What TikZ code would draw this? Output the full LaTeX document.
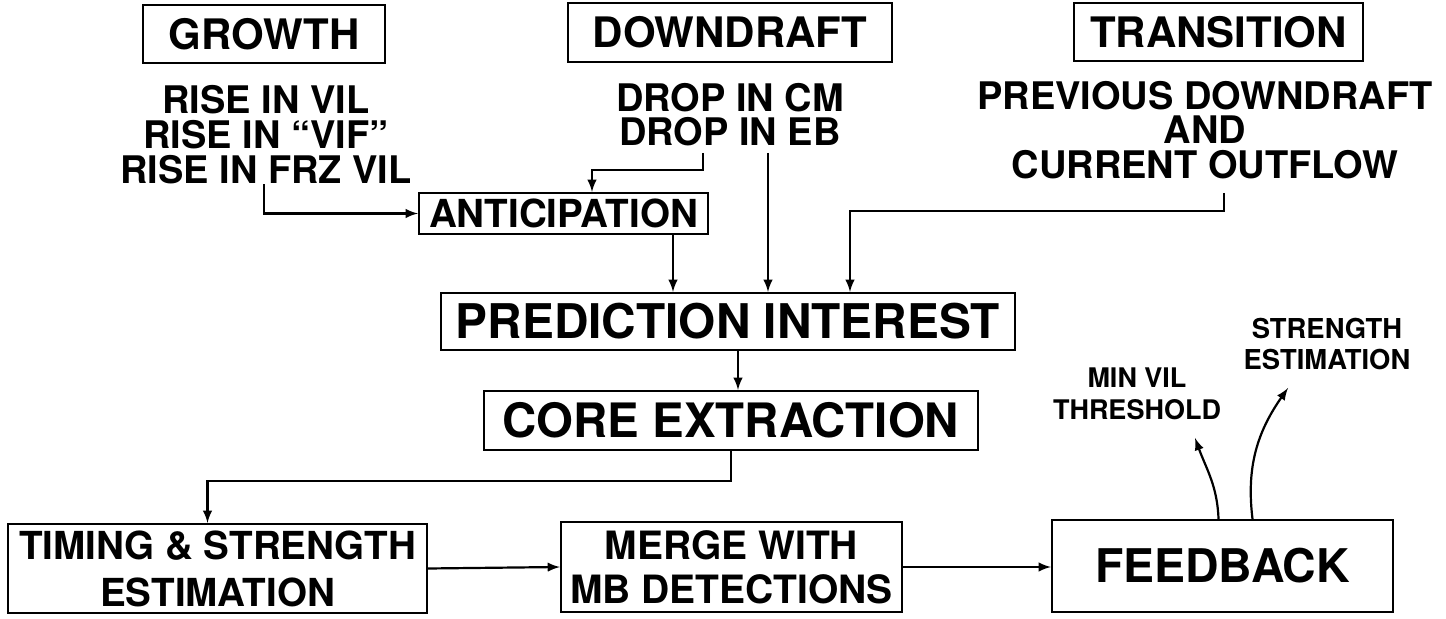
\documentclass[tikz,border=0pt]{standalone}
\usepackage{fontspec}
\setmainfont{TeX Gyre Heros}
\begin{document}
\begin{tikzpicture}[x=0.5pt, y=-0.5pt,
    box/.style={draw, line width=1.1pt, inner sep=0pt},
    txt/.style={inner sep=0pt, align=center, anchor=north},
    flow/.style={-latex, line width=1.1pt}]
        \useasboundingbox (0,0) rectangle (1446,619);
        % headings
        \node[box, minimum width=121pt, minimum height=29pt, font=\bfseries\fontsize{21}{21}\selectfont] at (264,34) (growth) {GROWTH};
        \node[box, minimum width=162pt, minimum height=29.5pt, font=\bfseries\fontsize{21}{21}\selectfont] at (730,32.5) (downdraft) {DOWNDRAFT};
        \node[box, minimum width=144.5pt, minimum height=29pt, font=\bfseries\fontsize{21}{21}\selectfont] at (1218.5,32) (transition) {TRANSITION};
        % cues under the headings
        \node[txt, font=\bfseries\fontsize{19}{17.4}\selectfont] at (266,85) (growthtxt) {RISE IN VIL\\RISE IN ``VIF''\\RISE IN FRZ VIL};
        \node[txt, font=\bfseries\fontsize{19}{17.2}\selectfont] at (730,83) (droptxt) {DROP IN CM\\DROP IN EB};
        \node[txt, font=\bfseries\fontsize{19}{17.2}\selectfont] at (1205,81) (flowtxt) {PREVIOUS DOWNDRAFT\\AND\\CURRENT OUTFLOW};
        \coordinate (cmout) at (703,153);
        \coordinate (ebout) at (768,153);
        \coordinate (flowout) at (1224,193);
        % main chain
        \node[box, minimum width=144.5pt, minimum height=20.5pt, font=\bfseries\fontsize{19.3}{19.3}\selectfont] at (563.5,213.5) (antic) {ANTICIPATION};
        \node[box, minimum width=287pt, minimum height=28.5pt, font=\bfseries\fontsize{23.9}{23.9}\selectfont] at (728,321.5) (predict) {PREDICTION INTEREST};
        \node[box, minimum width=247pt, minimum height=29.5pt, font=\bfseries\fontsize{23.7}{23.7}\selectfont] at (731,420.5) (core) {CORE EXTRACTION};
        \node[box, minimum width=209.5pt, minimum height=44.5pt, align=center, font=\bfseries\fontsize{19.3}{23.5}\selectfont] at (217.5,568.5) (timing) {TIMING \& STRENGTH\\ESTIMATION};
        \node[box, minimum width=170.5pt, minimum height=45pt, align=center, font=\bfseries\fontsize{19.5}{22}\selectfont] at (731.5,567) (merge) {MERGE WITH\\MB DETECTIONS};
        \node[box, minimum width=170.5pt, minimum height=46pt, font=\bfseries\fontsize{23.2}{23.2}\selectfont] at (1222.5,566) (feedback) {FEEDBACK};
        % feedback outputs
        \node[txt, font=\bfseries\fontsize{13.5}{16}\selectfont] at (1137,367) (vil) {MIN VIL\\THRESHOLD};
        \node[txt, font=\bfseries\fontsize{13.7}{15.5}\selectfont] at (1327,318) (strength) {STRENGTH\\ESTIMATION};
        \coordinate (vilend) at (1195,438);
        \coordinate (strend) at (1288,388);
        \draw[flow] (growthtxt.south -| growth) |- (antic.west);
        \draw[flow] (cmout) -- ++(0,17) -| ([xshift=14.25pt]antic.north);
        \draw[flow] ([xshift=54.75pt]antic.south) -- ([xshift=54.75pt]antic.south |- predict.north);
        \draw[flow] (ebout) -- (ebout |- predict.north);
        \draw[flow] (flowout) -- ++(0,18) -| ([xshift=61pt]predict.north);
        \draw[flow] ([xshift=5pt]predict.south) -- ([xshift=5pt]predict.south |- core.north);
        \draw[flow] (core.south) -- ++(0,30) -| ([xshift=-5pt]timing.north);
        \draw[flow] (timing.east) -- (merge.west);
        \draw[flow] (merge.east) -- (feedback.west |- merge.east);
        \draw[flow] ([xshift=-2pt]feedback.north) to[out=92,in=-70] (vilend);
        \draw[flow] ([xshift=15pt]feedback.north) to[out=97,in=-125] (strend);
      \end{tikzpicture}
\end{document}
